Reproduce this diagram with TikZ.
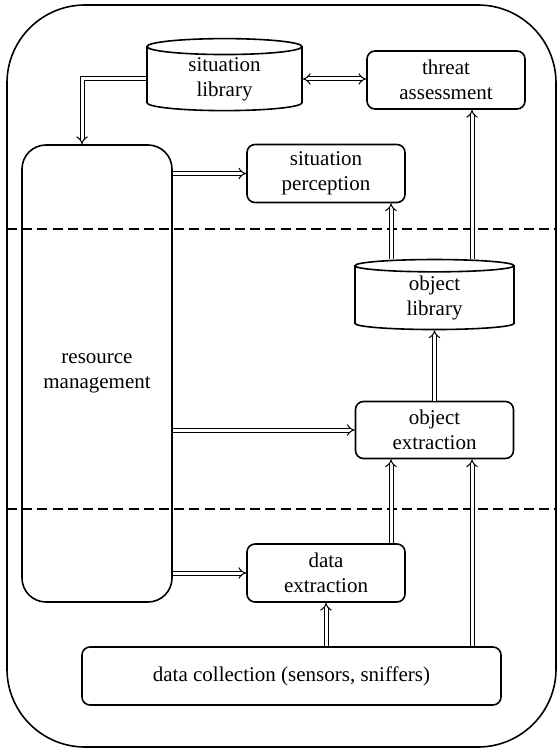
\documentclass[tikz,border=0pt]{standalone}
\usepackage{fontspec}
\setmainfont{Liberation Serif}
\usetikzlibrary{arrows.meta,shapes.geometric,calc}

\begin{document}
\begin{tikzpicture}[x=0.5pt,y=-0.5pt,
 box/.style={draw,line width=0.8pt,rounded corners=4pt,align=center,font=\rmfamily\fontsize{10.5}{12.5}\selectfont,minimum width=79pt,minimum height=29pt,inner sep=0pt},
 lib/.style={draw,line width=0.8pt,cylinder,shape border rotate=90,aspect=0.22,align=center,font=\rmfamily\fontsize{10.5}{12.5}\selectfont,inner sep=0pt},
 arr/.style={double,double distance=1.5pt,line width=0.5pt,-{Implies}},
 biarr/.style={double,double distance=1.5pt,line width=0.5pt,{Implies}-{Implies}},
 sep/.style={dash pattern=on 5pt off 2.6pt,line width=0.7pt}]
 \useasboundingbox (0,0) rectangle (557,748);
 % outer frame and layer separators
 \draw[line width=0.8pt,rounded corners=39pt] (7,5) rectangle (556,747);
 \draw[sep] (7,229)--(556,229);
 \draw[sep] (7,509)--(556,509);
 % blocks
 \node[lib,minimum width=77.5pt,minimum height=36pt] (sitlib) at (224.5,79) {situation\\library};
 \node[box] (threat) at (446,80) {threat\\assessment};
 \node[box] (sitperc) at (326,173.5) {situation\\perception};
 \node[box,minimum width=75pt,minimum height=228.5pt,rounded corners=12pt] (resmgmt) at (97,373.5) {resource\\management};
 \node[lib,minimum width=79.5pt,minimum height=35pt] (objlib) at (434.5,298) {object\\library};
 \node[box,minimum height=28.5pt] (objext) at (434.5,430) {object\\extraction};
 \node[box] (dataext) at (326,573) {data\\extraction};
 \node[box,minimum width=209.5pt] (datacoll) at (291.5,676) {data collection (sensors, sniffers)};
 \coordinate (colA) at (391,0);
 \coordinate (colB) at (472,0);
 \coordinate (colC) at (82,0);
 % flows
 \draw[arr] (sitlib.west)-|(resmgmt.north -| colC);
 \draw[biarr] (sitlib.east)--(sitlib.east -| threat.west);
 \draw[arr] (resmgmt.east |- sitperc.west)--(sitperc.west);
 \draw[arr] (objlib.north -| colA)--(sitperc.south -| colA);
 \draw[arr] (objlib.north -| colB)--(threat.south -| colB);
 \draw[arr] (objext.north)--(objlib.south);
 \draw[arr] (resmgmt.east |- objext.west)--(objext.west);
 \draw[arr] (dataext.north -| colA)--(objext.south -| colA);
 \draw[arr] (datacoll.north -| colB)--(objext.south -| colB);
 \draw[arr] (resmgmt.east |- dataext.west)--(dataext.west);
 \draw[arr] (datacoll.north -| dataext.south)--(dataext.south);
\end{tikzpicture}
\end{document}
